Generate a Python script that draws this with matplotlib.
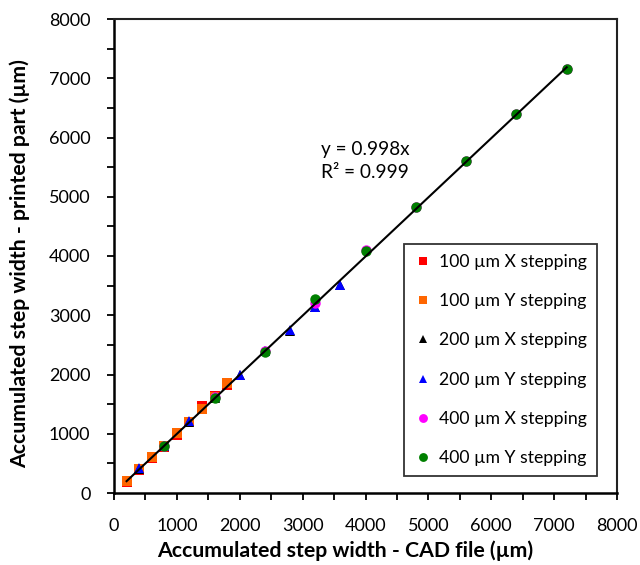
import matplotlib
matplotlib.use("Agg")
import matplotlib.pyplot as plt
from matplotlib.ticker import MultipleLocator

plt.rcParams['font.family'] = ['Lato', 'DejaVu Sans']

# Accumulated step width from the CAD file (µm)
cad_100 = [200, 400, 600, 800, 1000, 1200, 1400, 1600, 1800]
cad_200 = [400, 800, 1200, 1600, 2000, 2400, 2800, 3200, 3600]
cad_400 = [800, 1600, 2400, 3200, 4000, 4800, 5600, 6400, 7200]

# Measured accumulated step width on the printed part (µm)
print_100_x = [180, 380, 590, 780, 980, 1190, 1460, 1640, 1830]
print_100_y = [200, 400, 605, 800, 1005, 1200, 1415, 1615, 1850]
print_200_x = [400, 790, 1200, 1610, 1990, 2390, 2740, 3140, 3510]
print_200_y = [420, 800, 1215, 1620, 1995, 2390, 2750, 3140, 3510]
print_400_x = [800, 1620, 2400, 3200, 4100, 4830, 5600, 6400, 7160]
print_400_y = [790, 1600, 2385, 3270, 4090, 4830, 5605, 6390, 7155]

series_labels = ["100 µm X stepping", "100 µm Y stepping",
                 "200 µm X stepping", "200 µm Y stepping",
                 "400 µm X stepping", "400 µm Y stepping"]

fit_slope = 0.998
fit_r2 = 0.999
fit_range = [200, 7200]

fig = plt.figure(figsize=(6.4, 5.65), dpi=100)
ax = fig.add_axes([114 / 640, 1 - 493 / 565, 503 / 640, 474 / 565])

styles = [
    (cad_100, print_100_x, 's', '#ff0000', 7),
    (cad_100, print_100_y, 's', '#ff6600', 7),
    (cad_200, print_200_x, '^', '#000000', 7.5),
    (cad_200, print_200_y, '^', '#0000ff', 7.5),
    (cad_400, print_400_x, 'o', '#ff00ff', 7.5),
    (cad_400, print_400_y, 'o', '#008000', 7.5),
]
for (xs, ys, mk, col, ms), lab in zip(styles, series_labels):
    ax.plot(xs, ys, linestyle='none', marker=mk, color=col, markersize=ms,
            markeredgewidth=0, label=lab)

ax.plot(fit_range, [fit_slope * v for v in fit_range], color='black',
        linewidth=1.5, zorder=5)

ax.text(3300, 5600, f"y = {fit_slope}x\nR² = {fit_r2}", fontsize=13.7,
        ha='left', va='center', linespacing=1.45)

ax.set_xlim(0, 8000)
ax.set_ylim(0, 8000)
ax.xaxis.set_major_locator(MultipleLocator(1000))
ax.yaxis.set_major_locator(MultipleLocator(1000))
ax.xaxis.set_minor_locator(MultipleLocator(500))
ax.yaxis.set_minor_locator(MultipleLocator(500))
ax.tick_params(which='both', direction='out', length=5, width=1.3,
               labelsize=13, color='black')
ax.tick_params(axis='y', which='both', pad=12)
ax.tick_params(axis='x', which='both', pad=13)

for side in ['left', 'bottom']:
    ax.spines[side].set_linewidth(1.8)
for side in ['top', 'right']:
    ax.spines[side].set_linewidth(1.5)
    ax.spines[side].set_color('#222222')

fig.text(345 / 640, 1 - 551 / 565, "Accumulated step width - CAD file (µm)",
         fontsize=15.3, fontweight='bold', ha='center', va='center')
fig.text(20 / 640, 1 - 264 / 565, "Accumulated step width - printed part (µm)",
         fontsize=15.3, fontweight='bold', ha='center', va='center',
         rotation=90)

leg = ax.legend(loc='upper left', bbox_to_anchor=(0.5765, 0.525),
                fontsize=12.7, frameon=True, fancybox=False,
                handlelength=1.0, handletextpad=0.45, labelspacing=1.32,
                borderpad=0.55, borderaxespad=0, markerscale=0.85)
leg.get_frame().set_edgecolor('black')
leg.get_frame().set_linewidth(1.3)

fig.savefig("out.png", dpi=100)
